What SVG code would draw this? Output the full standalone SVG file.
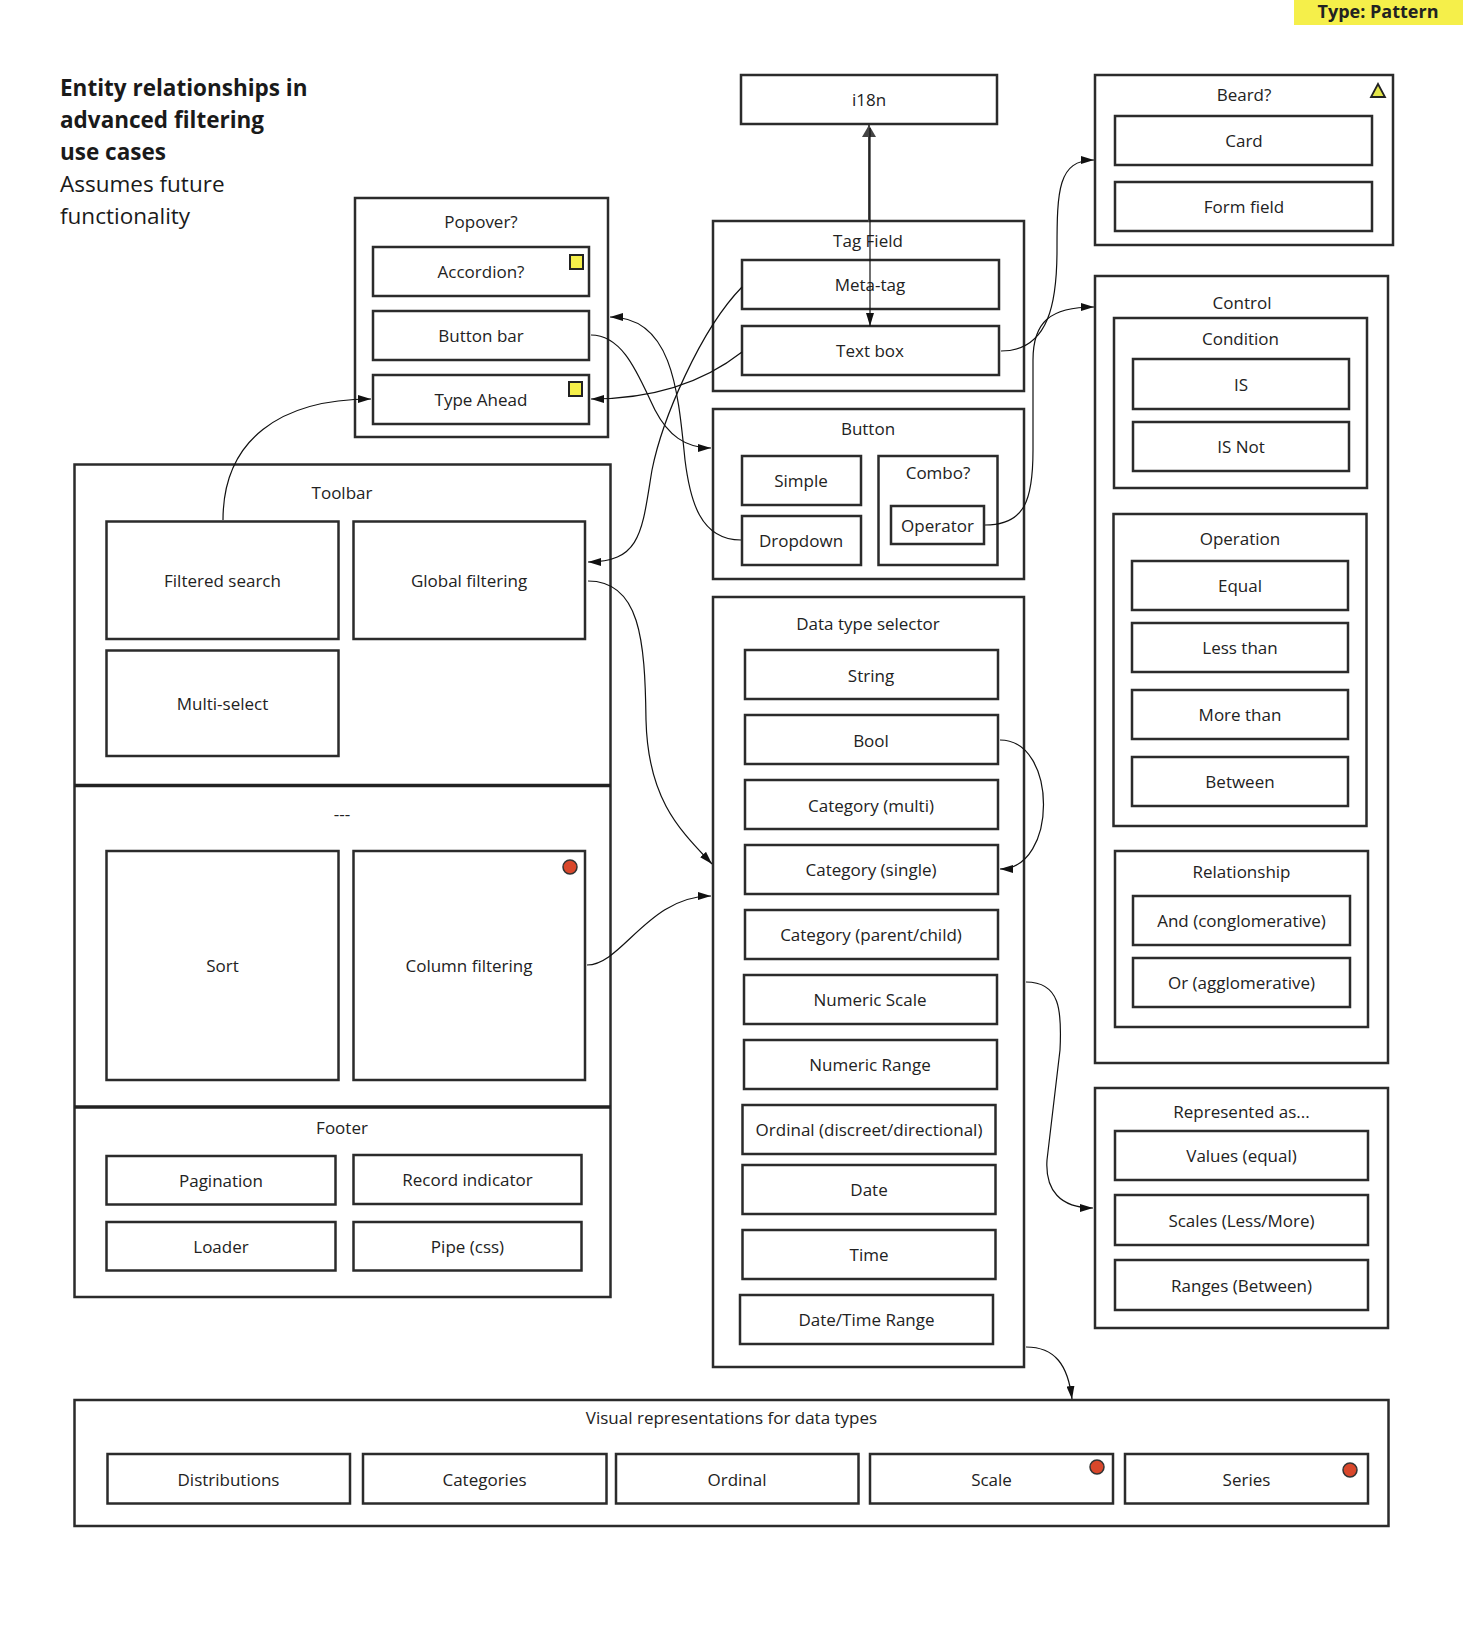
<svg xmlns="http://www.w3.org/2000/svg" width="1463" height="1637" viewBox="0 0 1463 1637">
<defs>
<style>
.bx{fill:#fff;stroke:#2b2b2b;stroke-width:2.5}
.ct{fill:none;stroke:#2b2b2b;stroke-width:2.5}
.dv{fill:none;stroke:#222;stroke-width:3.5}
.t{font-family:"Open Sans","Liberation Sans",sans-serif;font-size:17px;fill:#222;text-anchor:middle;dominant-baseline:central}
.ttl{font-family:"Open Sans","Liberation Sans",sans-serif;font-size:22.5px;fill:#1a1a1a}
.cn{fill:none;stroke:#111;stroke-width:1.2}
.ysq{fill:#f5ef4a;stroke:#222;stroke-width:2}
.rd{fill:#d9472b;stroke:#333;stroke-width:1.5}
</style>
<marker id="ah" viewBox="0 0 13 8" refX="13" refY="4" markerWidth="13" markerHeight="8" markerUnits="userSpaceOnUse" orient="auto">
<path d="M0,0 L13,4 L0,8 Z" fill="#111"/>
</marker>
<marker id="ahg" viewBox="0 0 12 14" refX="12" refY="7" markerWidth="12" markerHeight="14" markerUnits="userSpaceOnUse" orient="auto">
<path d="M0,0 L12,7 L0,14 Z" fill="#444"/>
</marker>
</defs>
<rect width="1463" height="1637" fill="#fff"/>

<g id="badge">
<rect x="1294" y="0" width="169" height="25" fill="#f5ef4a"/>
<text x="1378" y="18" font-family="'Open Sans','Liberation Sans',sans-serif" font-size="18" font-weight="700" fill="#222" text-anchor="middle">Type: Pattern</text>
</g>

<g id="title">
<text class="ttl" x="60" y="96" font-weight="700">Entity relationships in</text>
<text class="ttl" x="60" y="128" font-weight="700">advanced filtering</text>
<text class="ttl" x="60" y="160" font-weight="700">use cases</text>
<text class="ttl" x="60" y="192">Assumes future</text>
<text class="ttl" x="60" y="224">functionality</text>
</g>

<g id="i18n"><rect class="bx" x="741" y="75" width="256" height="49"/><text class="t" x="869" y="99">i18n</text></g>

<g id="popover">
<rect class="ct" x="355" y="198" width="253" height="239"/>
<text class="t" x="481" y="221">Popover?</text>
<g id="accordion"><rect class="bx" x="373" y="247" width="216" height="49"/><text class="t" x="481" y="271">Accordion?</text><rect class="ysq" x="570" y="255" width="13" height="14"/></g>
<g id="button-bar"><rect class="bx" x="373" y="311" width="216" height="49"/><text class="t" x="481" y="335">Button bar</text></g>
<g id="type-ahead"><rect class="bx" x="373" y="375" width="216" height="49"/><text class="t" x="481" y="399">Type Ahead</text><rect class="ysq" x="569" y="382" width="13" height="14"/></g>
</g>

<g id="tag-field">
<rect class="ct" x="713" y="221" width="311" height="170"/>
<text class="t" x="868" y="240">Tag Field</text>
<g id="meta-tag"><rect class="bx" x="742" y="260" width="257" height="49"/><text class="t" x="870" y="284">Meta-tag</text></g>
<g id="text-box"><rect class="bx" x="742" y="326" width="257" height="49"/><text class="t" x="870" y="350">Text box</text></g>
</g>

<g id="button">
<rect class="ct" x="713" y="409" width="311" height="170"/>
<text class="t" x="868" y="428">Button</text>
<g id="simple"><rect class="bx" x="742" y="456" width="119" height="49"/><text class="t" x="801" y="480">Simple</text></g>
<g id="dropdown"><rect class="bx" x="742" y="516" width="119" height="49"/><text class="t" x="801" y="540">Dropdown</text></g>
<g id="combo"><rect class="ct" x="878.5" y="456" width="119" height="109"/><text class="t" x="938" y="472">Combo?</text>
<g id="operator"><rect class="bx" x="891" y="506" width="93" height="38"/><text class="t" x="937.5" y="525">Operator</text></g></g>
</g>

<g id="data-type-selector">
<rect class="ct" x="713" y="597" width="311" height="770"/>
<text class="t" x="868" y="623">Data type selector</text>
<g id="string"><rect class="bx" x="745" y="650" width="253" height="49"/><text class="t" x="871" y="675">String</text></g>
<g id="bool"><rect class="bx" x="745" y="715" width="253" height="49"/><text class="t" x="871" y="740">Bool</text></g>
<g id="cat-multi"><rect class="bx" x="745" y="780" width="253" height="49"/><text class="t" x="871" y="805">Category (multi)</text></g>
<g id="cat-single"><rect class="bx" x="745" y="845" width="253" height="49"/><text class="t" x="871" y="869">Category (single)</text></g>
<g id="cat-parent"><rect class="bx" x="745" y="910" width="253" height="49"/><text class="t" x="871" y="934">Category (parent/child)</text></g>
<g id="num-scale"><rect class="bx" x="744" y="975" width="253" height="49"/><text class="t" x="870" y="999">Numeric Scale</text></g>
<g id="num-range"><rect class="bx" x="744" y="1040" width="253" height="49"/><text class="t" x="870" y="1064">Numeric Range</text></g>
<g id="ordinal"><rect class="bx" x="742.5" y="1105" width="253" height="49"/><text class="t" x="869" y="1129">Ordinal (discreet/directional)</text></g>
<g id="date"><rect class="bx" x="742.5" y="1165" width="253" height="49"/><text class="t" x="869" y="1189">Date</text></g>
<g id="time"><rect class="bx" x="742.5" y="1230" width="253" height="49"/><text class="t" x="869" y="1254">Time</text></g>
<g id="datetime-range"><rect class="bx" x="740" y="1295" width="253" height="49"/><text class="t" x="866.5" y="1319">Date/Time Range</text></g>
</g>

<g id="beard">
<rect class="ct" x="1095" y="75" width="298" height="170"/>
<text class="t" x="1244" y="94">Beard?</text>
<path d="M1378,84 L1385,97 L1371,97 Z" fill="#e4e64a" stroke="#222" stroke-width="1.8"/>
<g id="card"><rect class="bx" x="1115" y="116" width="257" height="49"/><text class="t" x="1244" y="140">Card</text></g>
<g id="form-field"><rect class="bx" x="1115" y="182" width="257" height="49"/><text class="t" x="1244" y="206">Form field</text></g>
</g>

<g id="control">
<rect class="ct" x="1095" y="276" width="293" height="787"/>
<text class="t" x="1242" y="302">Control</text>
<g id="condition"><rect class="ct" x="1114" y="318" width="253" height="170"/><text class="t" x="1240.5" y="338">Condition</text>
<g id="is"><rect class="bx" x="1133" y="359" width="216" height="50"/><text class="t" x="1241" y="384">IS</text></g>
<g id="is-not"><rect class="bx" x="1133" y="422" width="216" height="49"/><text class="t" x="1241" y="446">IS Not</text></g></g>
<g id="operation"><rect class="ct" x="1113.5" y="514" width="253" height="312"/><text class="t" x="1240" y="538">Operation</text>
<g id="equal"><rect class="bx" x="1132" y="561" width="216" height="49"/><text class="t" x="1240" y="585">Equal</text></g>
<g id="less-than"><rect class="bx" x="1132" y="623" width="216" height="49"/><text class="t" x="1240" y="647">Less than</text></g>
<g id="more-than"><rect class="bx" x="1132" y="690" width="216" height="49"/><text class="t" x="1240" y="714">More than</text></g>
<g id="between"><rect class="bx" x="1132" y="757" width="216" height="49"/><text class="t" x="1240" y="781">Between</text></g></g>
<g id="relationship"><rect class="ct" x="1115" y="851" width="253" height="176"/><text class="t" x="1241.5" y="871">Relationship</text>
<g id="and"><rect class="bx" x="1133" y="896" width="217" height="49"/><text class="t" x="1241.5" y="920">And (conglomerative)</text></g>
<g id="or"><rect class="bx" x="1133" y="958" width="217" height="49"/><text class="t" x="1241.5" y="982">Or (agglomerative)</text></g></g>
</g>

<g id="represented-as">
<rect class="ct" x="1095" y="1088" width="293" height="240"/>
<text class="t" x="1241.5" y="1111">Represented as...</text>
<g id="values"><rect class="bx" x="1115" y="1131" width="253" height="49"/><text class="t" x="1241.5" y="1155">Values (equal)</text></g>
<g id="scales"><rect class="bx" x="1115" y="1195" width="253" height="50"/><text class="t" x="1241.5" y="1220">Scales (Less/More)</text></g>
<g id="ranges"><rect class="bx" x="1115" y="1260" width="253" height="50"/><text class="t" x="1241.5" y="1285">Ranges (Between)</text></g>
</g>

<g id="toolbar">
<rect class="ct" x="74.5" y="464.5" width="536" height="832.5"/>
<line class="dv" x1="74.5" y1="785.5" x2="610.5" y2="785.5"/>
<line class="dv" x1="74.5" y1="1107" x2="610.5" y2="1107"/>
<text class="t" x="342" y="492">Toolbar</text>
<g id="filtered-search"><rect class="bx" x="106.5" y="521.5" width="232" height="117.5"/><text class="t" x="222.5" y="580">Filtered search</text></g>
<g id="global-filtering"><rect class="bx" x="353.5" y="521.5" width="231.5" height="117.5"/><text class="t" x="469" y="580">Global filtering</text></g>
<g id="multi-select"><rect class="bx" x="106.5" y="650.5" width="232" height="105.5"/><text class="t" x="222.5" y="703">Multi-select</text></g>
<text class="t" x="342" y="813">---</text>
<g id="sort"><rect class="bx" x="106.5" y="851" width="232" height="229"/><text class="t" x="222.5" y="965">Sort</text></g>
<g id="column-filtering"><rect class="bx" x="353.5" y="851" width="231.5" height="229"/><text class="t" x="469" y="965">Column filtering</text><circle class="rd" cx="570" cy="867" r="7"/></g>
<text class="t" x="342" y="1127">Footer</text>
<g id="pagination"><rect class="bx" x="106.5" y="1156" width="229" height="48.5"/><text class="t" x="221" y="1180">Pagination</text></g>
<g id="record-indicator"><rect class="bx" x="353.5" y="1155" width="228" height="49"/><text class="t" x="467.5" y="1179">Record indicator</text></g>
<g id="loader"><rect class="bx" x="106.5" y="1222" width="229" height="48.5"/><text class="t" x="221" y="1246">Loader</text></g>
<g id="pipe"><rect class="bx" x="353.5" y="1222" width="228" height="48.5"/><text class="t" x="467.5" y="1246">Pipe (css)</text></g>
</g>

<g id="visual-representations">
<rect class="ct" x="74.5" y="1400" width="1314" height="126"/>
<text class="t" x="731.5" y="1417">Visual representations for data types</text>
<g id="distributions"><rect class="bx" x="107.5" y="1454" width="242.5" height="49.5"/><text class="t" x="228.5" y="1479">Distributions</text></g>
<g id="categories"><rect class="bx" x="363" y="1454" width="243.5" height="49.5"/><text class="t" x="484.5" y="1479">Categories</text></g>
<g id="ordinal-vis"><rect class="bx" x="616" y="1454" width="242.5" height="49.5"/><text class="t" x="737" y="1479">Ordinal</text></g>
<g id="scale"><rect class="bx" x="870" y="1454" width="243" height="49.5"/><text class="t" x="991.5" y="1479">Scale</text><circle class="rd" cx="1097" cy="1467" r="7"/></g>
<g id="series"><rect class="bx" x="1125" y="1454" width="243" height="49.5"/><text class="t" x="1246.5" y="1479">Series</text><circle class="rd" cx="1350" cy="1470" r="7"/></g>
</g>

<g id="connectors">
<path d="M869,222 L869,125" stroke="#444" stroke-width="2" fill="none" marker-end="url(#ahg)"/>
<path class="cn" d="M870,128 L870,326" marker-end="url(#ah)"/>
<path class="cn" d="M1001,351 C1050,351 1057,300 1057,250 C1057,190 1058,160 1094,160" marker-end="url(#ah)"/>
<path class="cn" d="M985,525 C1025,525 1033,500 1033,450 L1033,360 C1033,322 1050,307 1094,307" marker-end="url(#ah)"/>
<path class="cn" d="M742,287 C700,330 662,420 652,470 C642,530 642,562 588,562" marker-end="url(#ah)"/>
<path class="cn" d="M742,352 C700,385 650,399 591,399" marker-end="url(#ah)"/>
<path class="cn" d="M591,335 C625,335 640,380 655,410 C668,435 685,448 711,448" marker-end="url(#ah)"/>
<path class="cn" d="M741,540 C700,540 690,500 685,460 C678,390 672,317 610,317" marker-end="url(#ah)"/>
<path class="cn" d="M223,520 C223,440 280,399 371,399" marker-end="url(#ah)"/>
<path class="cn" d="M588,581 C640,581 645,640 646,720 C648,800 680,830 712,864" marker-end="url(#ah)"/>
<path class="cn" d="M587,965 C622,965 648,896 711,896" marker-end="url(#ah)"/>
<path class="cn" d="M1000,740 C1058,740 1058,869 1000,869" marker-end="url(#ah)"/>
<path class="cn" d="M1026,982 C1060,982 1062,1010 1060,1050 L1047,1160 C1045,1190 1060,1208 1093,1208" marker-end="url(#ah)"/>
<path class="cn" d="M1026,1347 C1055,1347 1068,1365 1072,1399" marker-end="url(#ah)"/>
</g>
</svg>
